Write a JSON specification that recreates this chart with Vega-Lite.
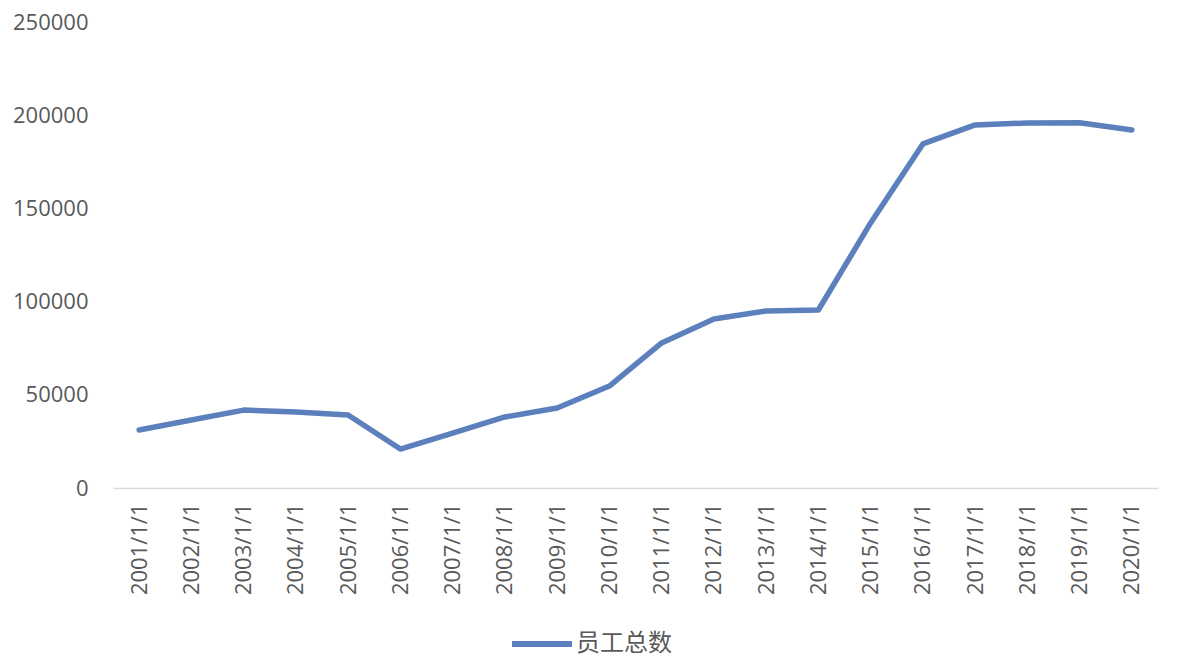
{
  "$schema": "https://vega.github.io/schema/vega-lite/v6.json",
  "width": 1045,
  "height": 466,
  "autosize": {"type": "none"},
  "padding": {"left": 113, "top": 22, "right": 26, "bottom": 172},
  "background": "white",
  "data": {"values": [
    {"date": "2001/1/1", "value": 31100, "series": "员工总数"},
    {"date": "2002/1/1", "value": 36500, "series": "员工总数"},
    {"date": "2003/1/1", "value": 41800, "series": "员工总数"},
    {"date": "2004/1/1", "value": 40800, "series": "员工总数"},
    {"date": "2005/1/1", "value": 39200, "series": "员工总数"},
    {"date": "2006/1/1", "value": 20900, "series": "员工总数"},
    {"date": "2007/1/1", "value": 29500, "series": "员工总数"},
    {"date": "2008/1/1", "value": 38100, "series": "员工总数"},
    {"date": "2009/1/1", "value": 42900, "series": "员工总数"},
    {"date": "2010/1/1", "value": 54700, "series": "员工总数"},
    {"date": "2011/1/1", "value": 77800, "series": "员工总数"},
    {"date": "2012/1/1", "value": 90700, "series": "员工总数"},
    {"date": "2013/1/1", "value": 95000, "series": "员工总数"},
    {"date": "2014/1/1", "value": 95500, "series": "员工总数"},
    {"date": "2015/1/1", "value": 142200, "series": "员工总数"},
    {"date": "2016/1/1", "value": 184600, "series": "员工总数"},
    {"date": "2017/1/1", "value": 194800, "series": "员工总数"},
    {"date": "2018/1/1", "value": 195800, "series": "员工总数"},
    {"date": "2019/1/1", "value": 195900, "series": "员工总数"},
    {"date": "2020/1/1", "value": 192100, "series": "员工总数"}
  ]},
  "mark": {"type": "line", "strokeWidth": 5.5, "strokeJoin": "round", "strokeCap": "round"},
  "encoding": {
    "x": {
      "field": "date", "type": "ordinal", "sort": null,
      "scale": {"type": "point", "padding": 0.5},
      "axis": {
        "title": null, "labelAngle": -90, "labelFontSize": 22, "labelFont": "Open Sans",
        "labelColor": "#595959", "labelPadding": 15, "ticks": false,
        "domainColor": "#d9d9d9", "domainWidth": 1.5, "grid": false
      }
    },
    "y": {
      "field": "value", "type": "quantitative",
      "scale": {"domain": [0, 250000], "nice": false},
      "axis": {
        "title": null, "values": [0, 50000, 100000, 150000, 200000, 250000],
        "format": "d", "labelFontSize": 22, "labelFont": "Open Sans",
        "labelColor": "#595959", "labelPadding": 25, "ticks": false,
        "domain": false, "grid": false
      }
    },
    "color": {
      "field": "series", "type": "nominal",
      "scale": {"range": ["#5b80bc"]},
      "legend": {
        "title": null, "orient": "none", "legendX": 396, "legendY": 589,
        "symbolType": "stroke", "symbolSize": 3600, "symbolStrokeWidth": 6,
        "labelFontSize": 24, "labelFont": "Noto Sans CJK SC", "labelColor": "#595959",
        "labelOffset": 1
      }
    }
  },
  "config": {"view": {"stroke": null}}
}
